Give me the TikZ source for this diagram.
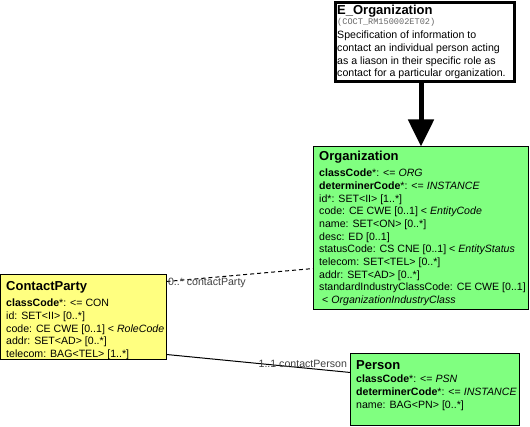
\documentclass[tikz,border=0pt]{standalone}
\usepackage{fontspec}
\setmainfont{Liberation Sans}
\newfontfamily\idmono{Liberation Mono}
\usetikzlibrary{arrows.meta}
\definecolor{clsgreen}{RGB}{128,255,128}
\definecolor{clsyellow}{RGB}{255,255,128}
\definecolor{lblgray}{RGB}{64,64,64}
\begin{document}
\begin{tikzpicture}[x=1pt,y=-1pt,
  clsbox/.style={draw=black, line width=1pt, inner sep=0pt, outer sep=0pt, anchor=north west},
  clstitle/.style={anchor=base west, inner sep=0pt, font=\fontsize{13}{15}\selectfont\bfseries},
  clsbody/.style={anchor=north west, inner sep=0pt, align=left, font=\fontsize{10.6}{12.7}\selectfont},
  lbl/.style={inner sep=0pt, text=lblgray, font=\fontsize{10.6}{12.7}\selectfont},
  conn/.style={draw=black, line width=1pt}
]
\useasboundingbox (0,0) rectangle (530,427);

% E_Organization
\node[draw=black, line width=3pt, fill=white, inner sep=0pt, minimum width=179pt, minimum height=79pt, anchor=north west] (eorg) at (333.5,1.5) {};
\node[clstitle] (eorgtitle) at (337,14.7) {E\_Organization};
\node[anchor=base west, inner sep=0pt, text=black!60, font=\idmono\fontsize{8.6}{10}\selectfont] (eorgid) at (337,25) {(COCT\_RM150002ET02)};
\node[anchor=north west, inner sep=0pt, align=left, font=\fontsize{10.6}{12.6}\selectfont] (eorgdesc) at (337,28.8)
  {\rule{0pt}{10pt}Specification of information to\\contact an individual person acting\\as a liason in their specific role as\\contact for a particular organization.};

% Organization
\node[clsbox, fill=clsgreen, minimum width=215pt, minimum height=163pt] (org) at (313.5,146.5) {};
\node[clstitle] (orgtitle) at (319,160.7) {Organization};
\node[clsbody] (orgbody) at (319,166.5)
  {\rule{0pt}{10pt}\textbf{classCode}*: <= \textit{ORG}\\
   \textbf{determinerCode}*: <= \textit{INSTANCE}\\
   id*: SET<II> [1..*]\\
   code: CE CWE [0..1] < \textit{EntityCode}\\
   name: SET<ON> [0..*]\\
   desc: ED [0..1]\\
   statusCode: CS CNE [0..1] < \textit{EntityStatus}\\
   telecom: SET<TEL> [0..*]\\
   addr: SET<AD> [0..*]\\
   standardIndustryClassCode: CE CWE [0..1]\\
   \hspace*{3pt}< \textit{OrganizationIndustryClass}};

% ContactParty
\node[clsbox, fill=clsyellow, minimum width=166pt, minimum height=85pt] (cp) at (0.5,274.5) {};
\node[clstitle] (cptitle) at (6,290.7) {ContactParty};
\node[clsbody] (cpbody) at (6,296.5)
  {\rule{0pt}{10pt}\textbf{classCode}*: <= CON\\
   id: SET<II> [0..*]\\
   code: CE CWE [0..1] < \textit{RoleCode}\\
   addr: SET<AD> [0..*]\\
   telecom: BAG<TEL> [1..*]};

% Person
\node[clsbox, fill=clsgreen, minimum width=169pt, minimum height=72pt] (person) at (350.5,353.5) {};
\node[clstitle] (persontitle) at (356,369.7) {Person};
\node[clsbody] (personbody) at (356,372.8)
  {\rule{0pt}{10pt}\textbf{classCode}*: <= \textit{PSN}\\
   \textbf{determinerCode}*: <= \textit{INSTANCE}\\
   name: BAG<PN> [0..*]};

% connectors
\draw[line width=5pt, -{Triangle[width=25pt,length=27pt]}] (org.north |- eorg.south) -- (org.north);

\draw[conn, dash pattern=on 4pt off 3pt] ([yshift=-7pt]cp.north east) -- ([yshift=-122pt]org.north west)
  node[lbl, pos=0, anchor=base west, xshift=1pt, yshift=-4pt] (lblcp) {0..* contactParty};

\draw[conn] ([yshift=5pt]cp.south east) -- ([yshift=-19pt]person.north west)
  node[lbl, pos=1, anchor=base east, xshift=-3pt, yshift=4.7pt] (lblperson) {1..1 contactPerson};

\end{tikzpicture}
\end{document}
